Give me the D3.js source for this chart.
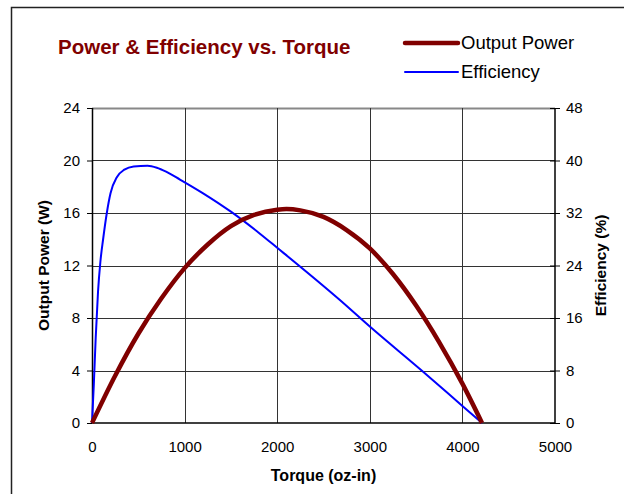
<!DOCTYPE html>
<html>
<head>
<meta charset="utf-8">
<script src="https://cdn.jsdelivr.net/npm/d3@7"></script>
<style>
  body { margin: 0; background: #fff; }
  text { font-family: "Liberation Sans", Arial, sans-serif; }
  .axis path { display: none; }
  .axis text { font-size: 15px; fill: #000; font-family: "Liberation Sans", Arial, sans-serif; }
</style>
</head>
<body>
<div class="mainviz"></div>
<script>
// torque (oz-in) vs output power (W)
var powerTorque = [0, 250, 500, 750, 1000, 1250, 1500, 1750, 2000, 2100, 2250, 2500, 2750, 3000, 3250, 3500, 3750, 4000, 4212];
var powerValues = [0, 3.6, 6.8, 9.5, 11.8, 13.6, 15.0, 15.85, 16.25, 16.3, 16.2, 15.7, 14.7, 13.3, 11.35, 8.95, 6.15, 3.0, 0];

// torque (oz-in) vs efficiency (%)
var effTorque = [0, 20, 40, 65, 90, 120, 160, 200, 270, 350, 450, 600, 700, 800, 950, 1200, 1500, 1800, 2000, 2680, 3000, 3560, 4000, 4212];
var effValues = [0, 6, 13, 20, 24.5, 28, 32, 35, 37.5, 38.6, 39.1, 39.2, 38.9, 38.3, 37.1, 35.0, 32.2, 29.0, 26.7, 18.7, 14.7, 8.0, 2.6, 0];

var xTicks = [0, 1000, 2000, 3000, 4000, 5000];
var powerTicks = [0, 4, 8, 12, 16, 20, 24];
var effTicks = [0, 8, 16, 24, 32, 40, 48];

var margin = { top: 108, right: 69, bottom: 71, left: 92 };
var width = 624 - margin.left - margin.right,
	height = 494 - margin.top - margin.bottom;

var svg = d3.select(".mainviz").append("svg")
	.attr("width", 624)
	.attr("height", 494);

// chart frame (runs off the right and bottom edges)
svg.append("rect")
	.attr("x", 11.5).attr("y", 7.5)
	.attr("width", 700).attr("height", 600)
	.attr("fill", "none")
	.attr("stroke", "#222")
	.attr("stroke-width", 1.5);

var g = svg.append("g")
	.attr("transform", "translate(" + margin.left + "," + margin.top + ")");

var x = d3.scaleLinear().domain([0, 5000]).range([0, width]);
var yP = d3.scaleLinear().domain([0, 24]).range([height, 0]);
var yE = d3.scaleLinear().domain([0, 48]).range([height, 0]);

// gridlines
g.selectAll("line.hgrid")
	.data(powerTicks.slice(1))
	.enter().append("line")
	.attr("class", "hgrid")
	.attr("x1", 0).attr("x2", width)
	.attr("y1", function(d){ return Math.round(yP(d)) + 0.5; })
	.attr("y2", function(d){ return Math.round(yP(d)) + 0.5; })
	.attr("stroke", function(d){ return d == 24 ? "#888" : "#333"; })
	.attr("stroke-width", function(d){ return d == 24 ? 2 : 1; });

g.selectAll("line.vgrid")
	.data(xTicks.slice(1, -1))
	.enter().append("line")
	.attr("class", "vgrid")
	.attr("x1", function(d){ return Math.round(x(d)) + 0.5; })
	.attr("x2", function(d){ return Math.round(x(d)) + 0.5; })
	.attr("y1", 0).attr("y2", height)
	.attr("stroke", "#333");

// axes
var yAxisL = d3.axisLeft(yP).tickValues(powerTicks).tickSize(5).tickPadding(7);
var yAxisR = d3.axisRight(yE).tickValues(effTicks).tickSize(5).tickPadding(6);
var xAxis = d3.axisBottom(x).tickValues(xTicks).tickFormat(d3.format("d")).tickSize(0).tickPadding(18.5);

g.append("g").attr("class", "axis y").call(yAxisL)
	.selectAll("line").attr("stroke", "#000");

var rAx = g.append("g").attr("class", "axis y2")
	.attr("transform", "translate(" + width + ",0)")
	.call(yAxisR);
rAx.selectAll("line").attr("x1", -5).attr("stroke", "#000");

g.append("g").attr("class", "axis x")
	.attr("transform", "translate(0," + height + ")")
	.call(xAxis);

// axis lines
g.append("line").attr("x1", 0.5).attr("x2", 0.5).attr("y1", 0).attr("y2", height).attr("stroke", "#000").attr("stroke-width", 1.5);
g.append("line").attr("x1", width).attr("x2", width).attr("y1", 0).attr("y2", height).attr("stroke", "#000").attr("stroke-width", 1.5);
g.append("line").attr("x1", 0).attr("x2", width).attr("y1", height).attr("y2", height).attr("stroke", "#000").attr("stroke-width", 1.5);

// series
var powerLine = d3.line()
	.x(function(d, i){ return x(powerTorque[i]); })
	.y(function(d){ return yP(d); })
	.curve(d3.curveMonotoneX);

var effLine = d3.line()
	.x(function(d, i){ return x(effTorque[i]); })
	.y(function(d){ return yE(d); })
	.curve(d3.curveMonotoneX);

g.append("path")
	.attr("d", effLine(effValues))
	.attr("fill", "none")
	.attr("stroke", "#0000ff")
	.attr("stroke-width", 2);

g.append("path")
	.attr("d", powerLine(powerValues))
	.attr("fill", "none")
	.attr("stroke", "#800000")
	.attr("stroke-width", 4.5)
	.attr("stroke-linejoin", "round");

// titles
svg.append("text")
	.attr("x", 58).attr("y", 54)
	.attr("font-size", "20.5px").attr("font-weight", "bold")
	.attr("fill", "#800000")
	.text("Power & Efficiency vs. Torque");

svg.append("text")
	.attr("x", margin.left + width / 2).attr("y", 481)
	.attr("text-anchor", "middle")
	.attr("font-size", "16px").attr("font-weight", "bold")
	.text("Torque (oz-in)");

svg.append("text")
	.attr("transform", "translate(49," + (margin.top + height / 2) + ") rotate(-90)")
	.attr("text-anchor", "middle")
	.attr("font-size", "15.5px").attr("font-weight", "bold")
	.text("Output Power (W)");

svg.append("text")
	.attr("transform", "translate(606," + (margin.top + height / 2) + ") rotate(-90)")
	.attr("text-anchor", "middle")
	.attr("font-size", "15.5px").attr("font-weight", "bold")
	.text("Efficiency (%)");

// legend
var legend = [
	{ name: "Output Power", color: "#800000", w: 4.5, y: 43 },
	{ name: "Efficiency", color: "#0000ff", w: 2, y: 72 }
];
var lg = svg.selectAll("g.legend")
	.data(legend)
	.enter().append("g")
	.attr("class", "legend")
	.attr("transform", function(d){ return "translate(405," + d.y + ")"; });
lg.append("line")
	.attr("x1", 0).attr("x2", 53)
	.attr("stroke", function(d){ return d.color; })
	.attr("stroke-width", function(d){ return d.w; })
	.attr("stroke-linecap", "round");
lg.append("text")
	.attr("x", 56).attr("dy", "0.35em")
	.attr("font-size", "18.5px")
	.text(function(d){ return d.name; });
</script>
</body>
</html>
